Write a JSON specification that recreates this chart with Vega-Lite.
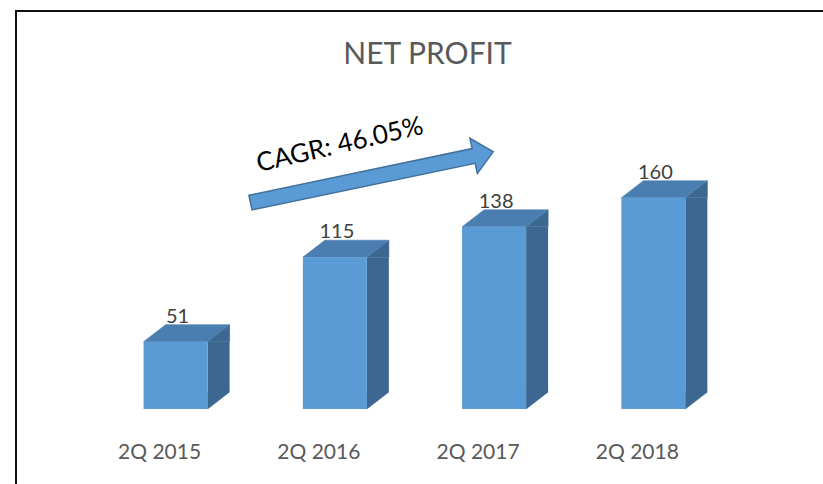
{
  "$schema": "https://vega.github.io/schema/vega-lite/v6.json",
  "width": 807,
  "height": 473,
  "autosize": {"type": "none"},
  "padding": {"left": 16, "top": 11, "right": 0, "bottom": 0},
  "background": "white",
  "config": {
    "view": {"stroke": "#111111", "strokeWidth": 2, "strokeDash": [807, 1280, 473]},
    "font": "Lato"
  },
  "title": {
    "text": "NET PROFIT",
    "font": "Lato",
    "fontSize": 30,
    "fontWeight": 400,
    "color": "#595959",
    "anchor": "middle",
    "frame": "group",
    "baseline": "alphabetic",
    "dx": 8,
    "offset": -83
  },
  "data": {
    "values": [
      {"quarter": "2Q 2015", "profit": 51},
      {"quarter": "2Q 2016", "profit": 115},
      {"quarter": "2Q 2017", "profit": 138},
      {"quarter": "2Q 2018", "profit": 160}
    ]
  },
  "encoding": {
    "x": {
      "field": "quarter",
      "type": "nominal",
      "sort": null,
      "scale": {"paddingInner": 0, "paddingOuter": 0.53375, "align": 0.47044},
      "axis": {
        "title": null,
        "domain": false,
        "ticks": false,
        "tickSize": 0,
        "grid": false,
        "labelAngle": 0,
        "labelOffset": -16,
        "labelPadding": 32,
        "offset": -75,
        "labelFont": "Lato",
        "labelFontSize": 21,
        "labelColor": "#595959"
      }
    },
    "y": {
      "field": "profit",
      "type": "quantitative",
      "scale": {"domain": [-56.82, 301.52], "nice": false, "zero": false},
      "axis": null
    }
  },
  "layer": [
    {
      "mark": {"type": "bar", "width": 22, "xOffset": 43, "y2Offset": -17, "color": "#3B6790"},
      "encoding": {"y2": {"datum": 0}}
    },
    {
      "mark": {"type": "point", "shape": "M32,0L54,-17L32,-17Z", "size": 4, "filled": true, "opacity": 1, "color": "#3B6790", "stroke": "#3B6790", "strokeWidth": 0.6},
      "encoding": {"y": {"datum": 0, "type": "quantitative"}}
    },
    {
      "mark": {"type": "point", "shape": "M32,0L54,-17L54,0Z", "size": 4, "filled": true, "opacity": 1, "color": "#3B6790", "stroke": "#3B6790", "strokeWidth": 0.6}
    },
    {
      "mark": {"type": "point", "shape": "M-32,0L32,0L54,-17L-10,-17Z", "size": 4, "filled": true, "opacity": 1, "color": "#4A7EB0", "stroke": "#4A7EB0", "strokeWidth": 0.6}
    },
    {
      "mark": {"type": "bar", "width": 64, "color": "#5B9BD5"},
      "encoding": {"y2": {"datum": 0}}
    },
    {
      "mark": {"type": "text", "xOffset": 2, "yOffset": -19, "baseline": "alphabetic", "align": "center", "font": "Lato", "fontSize": 20, "color": "#404040"},
      "encoding": {"text": {"field": "profit", "type": "quantitative"}}
    },
    {
      "transform": [{"filter": "datum.quarter == '2Q 2016'"}],
      "mark": {"type": "point", "shape": "M-124,-7.5L104,-7.5L104,-18L124,0L104,18L104,7.5L-124,7.5Z", "size": 4, "filled": true, "opacity": 1, "fill": "#5B9BD5", "stroke": "#41719C", "strokeWidth": 1.5, "angle": 348.2, "xOffset": 37},
      "encoding": {
        "y": {"datum": 175.6, "type": "quantitative"}
      }
    },
    {
      "transform": [{"filter": "datum.quarter == '2Q 2016'"}],
      "mark": {"type": "text", "angle": 347, "xOffset": 5, "align": "center", "baseline": "middle", "font": "Lato", "fontSize": 26, "color": "#000000"},
      "encoding": {
        "y": {"datum": 200, "type": "quantitative"},
        "text": {"value": "CAGR: 46.05%"}
      }
    }
  ]
}
